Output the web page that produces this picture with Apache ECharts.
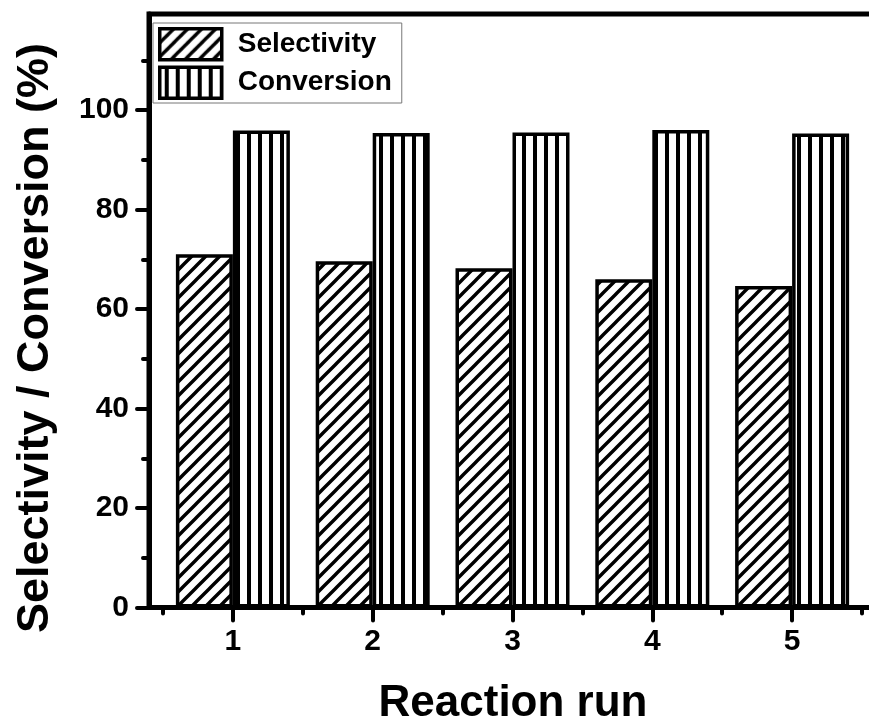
<!DOCTYPE html>
<html>
<head>
<meta charset="utf-8">
<script src="https://cdn.jsdelivr.net/npm/echarts@6/dist/echarts.min.js"></script>
<style>
  html, body { margin: 0; padding: 0; background: #fff; }
  #chart { width: 869px; height: 723px; }
</style>
</head>
<body>
<div id="chart"></div>
<script>
// 数据
var runs = [1, 2, 3, 4, 5]
var selectivity = [71.0, 69.6, 68.2, 66.0, 64.6]
var conversion = [95.9, 95.4, 95.5, 96.0, 95.3]
var yMajorTicks = [0, 20, 40, 60, 80, 100]
var yMinorTicks = [10, 30, 50, 70, 90, 110]
var xMinorTicks = [0.5, 1.5, 2.5, 3.5, 4.5, 5.5]

var FONT = 'Arial, "Liberation Sans", sans-serif'

/*====== 填充图案 ======*/
function diagPattern() {
  var c = document.createElement('canvas')
  c.width = 14
  c.height = 14
  var g = c.getContext('2d')
  g.fillStyle = '#fff'
  g.fillRect(0, 0, 14, 14)
  g.strokeStyle = '#000'
  g.lineWidth = 3.4
  g.beginPath()
  ;[-14, 0, 14].forEach(function (k) {
    g.moveTo(k - 2, 16)
    g.lineTo(k + 16, -2)
  })
  g.stroke()
  return c
}
function vertPattern() {
  var c = document.createElement('canvas')
  c.width = 11
  c.height = 4
  var g = c.getContext('2d')
  g.fillStyle = '#fff'
  g.fillRect(0, 0, 11, 4)
  g.fillStyle = '#000'
  g.fillRect(5, 0, 4, 4)
  return c
}

var dom = echarts.init(document.getElementById('chart'))

var axisFont = { fontFamily: FONT, fontWeight: 'bold', fontSize: 30, color: '#000' }

var option = {
  animation: false,
  grid: {
    left: 149, right: -7, top: 14, bottom: 115.5,
    outerBoundsMode: 'none',
    show: true, borderColor: '#000', borderWidth: 5, backgroundColor: 'transparent'
  },
  legend: {
    orient: 'vertical',
    left: 153, top: 23,
    padding: [4, 10, 3, 5],
    borderColor: '#777', borderWidth: 1,
    itemWidth: 62, itemHeight: 31, itemGap: 4,
    icon: 'rect',
    selectedMode: false,
    itemStyle: { borderColor: '#000', borderWidth: 3.5 },
    textStyle: { fontFamily: FONT, fontWeight: 'bold', fontSize: 28, color: '#000', padding: [0, 0, 0, 11] },
    data: ['Selectivity', 'Conversion']
  },
  xAxis: [
    {
      type: 'value', min: 0.4, max: 5.6,
      axisLine: { lineStyle: { color: '#000', width: 5 } },
      axisTick: { customValues: runs, length: 13, lineStyle: { color: '#000', width: 4, cap: 'round' } },
      axisLabel: Object.assign({ customValues: runs, margin: 19 }, axisFont),
      splitLine: { show: false }
    },
    {
      type: 'value', min: 0.4, max: 5.6, position: 'bottom',
      axisLine: { show: false },
      axisTick: { customValues: xMinorTicks, length: 6, lineStyle: { color: '#000', width: 4, cap: 'round' } },
      axisLabel: { show: false },
      splitLine: { show: false }
    }
  ],
  yAxis: [
    {
      type: 'value', min: 0, max: 119.3,
      axisLine: { show: true, lineStyle: { color: '#000', width: 5 } },
      axisTick: { customValues: yMajorTicks, length: 12, lineStyle: { color: '#000', width: 4, cap: 'round' } },
      axisLabel: Object.assign({ customValues: yMajorTicks, margin: 20 }, axisFont),
      splitLine: { show: false }
    },
    {
      type: 'value', min: 0, max: 119.3, position: 'left',
      axisLine: { show: false },
      axisTick: { show: true, customValues: yMinorTicks, length: 6, lineStyle: { color: '#000', width: 4, cap: 'round' } },
      axisLabel: { show: false },
      splitLine: { show: false }
    }
  ],
  graphic: [
    {
      type: 'text', x: 36, y: 338, rotation: Math.PI / 2,
      style: {
        text: 'Selectivity / Conversion (%)', x: 0, y: 0,
        font: 'bold 45px ' + FONT, fill: '#000', align: 'center', verticalAlign: 'middle'
      }
    },
    {
      type: 'text', x: 513, y: 704,
      style: {
        text: 'Reaction run', x: 0, y: 0,
        font: 'bold 44px ' + FONT, fill: '#000', align: 'center', verticalAlign: 'middle'
      }
    }
  ],
  series: [
    {
      name: 'Selectivity', type: 'bar', xAxisIndex: 0, yAxisIndex: 0,
      barWidth: 57, barGap: '0%',
      itemStyle: { color: { image: diagPattern(), repeat: 'repeat' }, borderColor: '#000', borderWidth: 3.5 },
      data: runs.map(function (r, i) { return [r, selectivity[i]] })
    },
    {
      name: 'Conversion', type: 'bar', xAxisIndex: 0, yAxisIndex: 0,
      barWidth: 57, barGap: '0%',
      itemStyle: { color: { image: vertPattern(), repeat: 'repeat' }, borderColor: '#000', borderWidth: 3.5 },
      data: runs.map(function (r, i) { return [r, conversion[i]] })
    }
  ]
}

dom.setOption(option)
</script>
</body>
</html>
